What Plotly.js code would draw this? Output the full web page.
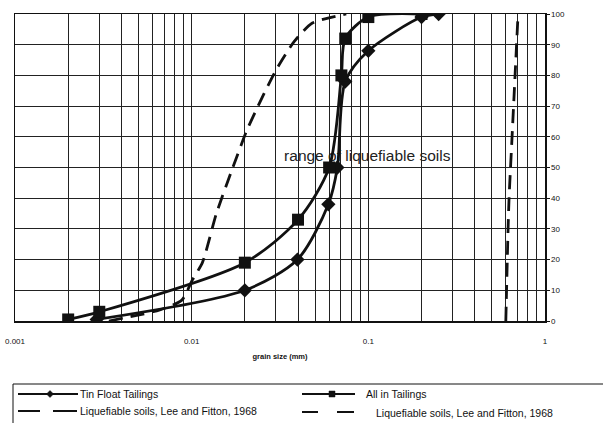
<!DOCTYPE html>
<html>
<head>
<meta charset="utf-8">
<script src="https://cdn.plot.ly/plotly-3.0.1.min.js"></script>
<style>html,body{margin:0;padding:0;background:#fff;}#chart{width:603px;height:423px;}</style>
</head>
<body>
<div id="chart"></div>
<script>
// grain size (mm) and percent passing
var tinGrain = [0.0029, 0.02, 0.0397, 0.0594, 0.0668, 0.074, 0.1, 0.2, 0.25];
var tinPass  = [0.5, 10, 20, 38, 50, 78, 88, 99, 100];

var allGrain = [0.002, 0.003, 0.02, 0.04, 0.06, 0.0704, 0.074, 0.1, 0.2];
var allPass  = [0.5, 3, 19, 33, 50, 80, 92, 99, 100];

var leeLowGrain = [0.0034, 0.0066, 0.0088, 0.0101, 0.0115, 0.0138, 0.0171, 0.0205, 0.0242, 0.0302, 0.0380, 0.0480, 0.0750];
var leeLowPass  = [0, 3.6, 6.8, 13.4, 19, 35, 50, 62, 71, 82, 91, 97, 100];

var leeHighGrain = [0.600, 0.618, 0.626, 0.651, 0.677, 0.704];
var leeHighPass  = [0, 30, 40, 60, 80, 100];

var tickVals = [0.001, 0.01, 0.1, 1];
var tickText = ["0.001", "0.01", "0.1", "1"];

var rangeLabel = "range of liquefiable soils";
var rangeLabelGrain = [0.0986];
var rangeLabelPass = [53.4];

var seriesNames = ["Tin Float Tailings", "All in Tailings", "Liquefiable soils, Lee and Fitton, 1968", "Liquefiable soils, Lee and Fitton, 1968"];

var ink = "#111";
var W = 603, H = 423, ML = 15, MR = 58, MT = 14, MB = 102;
var PW = W - ML - MR, PH = H - MT - MB;
function px(x) { return (x - ML) / PW; }
function py(y) { return (H - MB - y) / PH; }

var traces = [
  {x: rangeLabelGrain, y: rangeLabelPass, mode: "text", text: [rangeLabel], showlegend: false,
   textfont: {family: "Liberation Sans, Arial, sans-serif", size: 15.5, color: "#222"}, hoverinfo: "skip"},
  {x: tinGrain, y: tinPass, name: seriesNames[0], mode: "lines+markers",
   line: {color: ink, width: 2.8, shape: "spline", smoothing: 0.8},
   marker: {symbol: "diamond", size: 11, color: ink}},
  {x: allGrain, y: allPass, name: seriesNames[1], mode: "lines+markers",
   line: {color: ink, width: 2.8, shape: "spline", smoothing: 0.8},
   marker: {symbol: "square", size: 12, color: ink}},
  {x: leeLowGrain, y: leeLowPass, name: seriesNames[2], mode: "lines",
   line: {color: ink, width: 2.8, dash: "14px,8px", shape: "spline", smoothing: 0.6}},
  {x: leeHighGrain, y: leeHighPass, name: seriesNames[3], mode: "lines",
   line: {color: ink, width: 2.8, dash: "14px,8px", shape: "spline", smoothing: 0.6}}
];

// legend drawn as a boxed key (2 columns)
var shapes = [];
var annotations = [];
function hline(x0, x1, y, w) {
  shapes.push({type: "line", xref: "paper", yref: "paper", x0: px(x0), x1: px(x1), y0: py(y), y1: py(y),
               line: {color: ink, width: w}});
}
shapes.push({type: "rect", xref: "paper", yref: "paper", x0: px(13), x1: px(620), y0: py(384), y1: py(440),
             line: {color: ink, width: 1}, fillcolor: "rgba(0,0,0,0)"});
// row 1 col 1: Tin Float Tailings
hline(18, 78, 394, 2);
shapes.push({type: "path", xref: "paper", yref: "paper",
  path: "M" + px(50) + "," + py(390.5) + " L" + px(53.5) + "," + py(394) + " L" + px(50) + "," + py(397.5) + " L" + px(46.5) + "," + py(394) + " Z",
  fillcolor: ink, line: {color: ink, width: 0.5}});
// row 1 col 2: All in Tailings
hline(302, 355, 394, 2);
shapes.push({type: "rect", xref: "paper", yref: "paper", x0: px(329), x1: px(335), y0: py(391), y1: py(397),
             fillcolor: ink, line: {color: ink, width: 0.5}});
// row 2 dashed samples
hline(18, 40, 411, 2); hline(53, 77, 411, 2);
hline(302, 318, 412, 2); hline(337, 354, 412, 2);

function label(text, x, y) {
  annotations.push({text: text, xref: "paper", yref: "paper", x: px(x), y: py(y), xanchor: "left", yanchor: "middle",
                    showarrow: false, font: {size: 10.5, color: ink}});
}
label(seriesNames[0], 78, 394);
label(seriesNames[1], 364, 394);
label(seriesNames[2], 78, 411);
label(seriesNames[3], 374, 413);

var layout = {
  width: W, height: H,
  margin: {l: ML, r: MR, t: MT, b: MB, pad: 0},
  paper_bgcolor: "#fff", plot_bgcolor: "#fff",
  font: {family: "Liberation Sans, Arial, sans-serif", color: ink},
  showlegend: false,
  xaxis: {
    type: "log", range: [-3, 0],
    tickvals: tickVals, ticktext: tickText,
    showgrid: true, gridcolor: "#222", gridwidth: 1,
    minor: {dtick: "D1", showgrid: true, gridcolor: "#222", gridwidth: 1, ticks: ""},
    showline: true, linecolor: ink, linewidth: 1.5, mirror: true,
    ticks: "", ticklabelstandoff: 12,
    tickfont: {size: 8, color: ink},
    zeroline: false,
    title: {text: "<b>grain size (mm)</b>", font: {size: 7.5, color: ink}, standoff: 8}
  },
  yaxis: {
    range: [0, 100], dtick: 10, side: "right",
    showgrid: true, gridcolor: "#222", gridwidth: 1,
    showline: true, linecolor: ink, linewidth: 1.5, mirror: true,
    ticks: "outside", ticklen: 3, tickcolor: ink,
    tickfont: {size: 8, color: ink},
    zeroline: false
  },
  shapes: shapes,
  annotations: annotations
};

Plotly.newPlot("chart", traces, layout, {displayModeBar: false, staticPlot: true});
</script>
</body>
</html>
